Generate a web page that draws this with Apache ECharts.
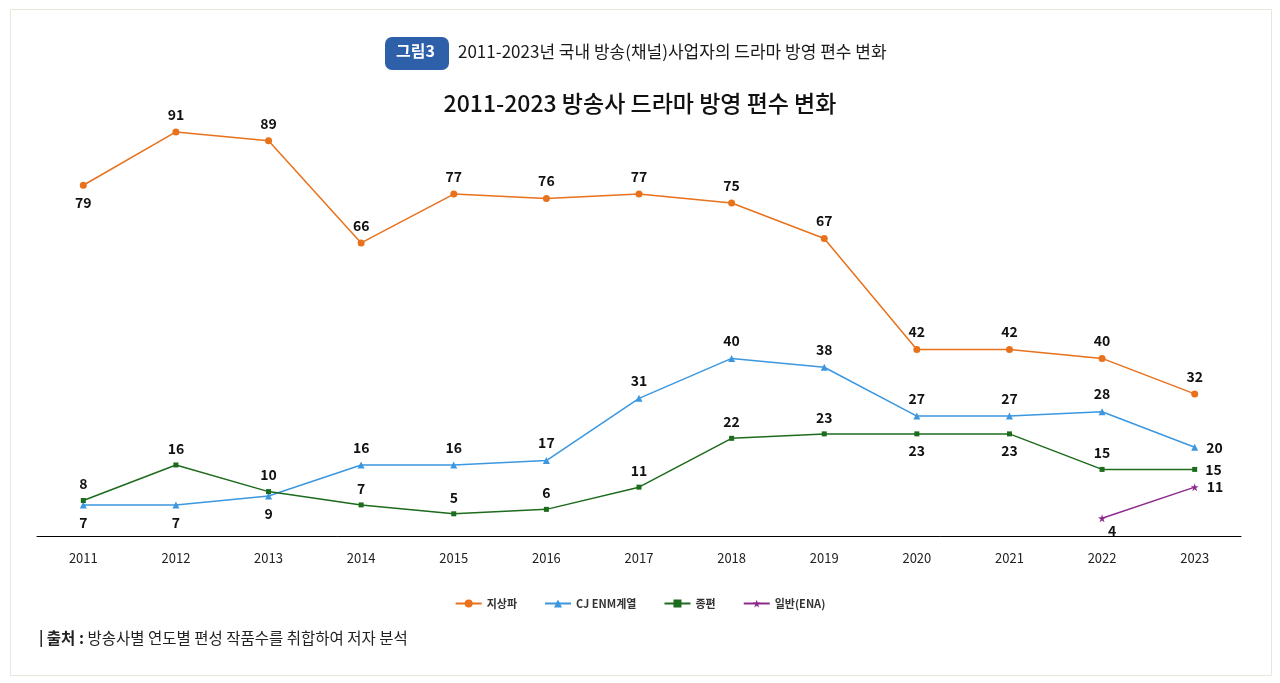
<!DOCTYPE html>
<html>
<head>
<meta charset="utf-8">
<title>2011-2023 방송사 드라마 방영 편수 변화</title>
<script src="https://cdn.jsdelivr.net/npm/echarts@6/dist/echarts.min.js"></script>
<style>
  html, body { margin: 0; padding: 0; background: #fff; }
  #chart { width: 1280px; height: 683px; }
</style>
</head>
<body>
<div id="chart"></div>
<script>
const years = ['2011', '2012', '2013', '2014', '2015', '2016', '2017', '2018', '2019', '2020', '2021', '2022', '2023'];
const terrestrial = [79, 91, 89, 66, 77, 76, 77, 75, 67, 42, 42, 40, 32];
const cjEnm = [7, 7, 9, 16, 16, 17, 31, 40, 38, 27, 27, 28, 20];
const jongpyeon = [8, 16, 10, 7, 5, 6, 11, 22, 23, 23, 23, 15, 15];
const ena = [null, null, null, null, null, null, null, null, null, null, null, 4, 11];

const FONT = '"Noto Sans CJK KR", "Noto Sans", sans-serif';

// where each point's label sits (default is top)
const labelPlace = {
  '지상파': { 0: 'bottom' },
  'CJ ENM계열': { 0: 'bottom', 1: 'bottom', 2: 'bottom', 12: 'right' },
  '종편': { 9: 'bottom', 10: 'bottom', 12: 'right' },
  '일반(ENA)': { 11: 'bottom', 12: 'right' }
};

function makeData(name, values) {
  return values.map(function (v, i) {
    const pos = labelPlace[name][i] || 'top';
    const item = { value: v, label: { position: pos } };
    if (name === '일반(ENA)' && i === 11) {
      item.label.offset = [10, 0];
      item.label.distance = 1;
    }
    if (pos === 'right') item.label.distance = 8;
    return item;
  });
}

function lineSeries(name, values, color, symbol, size) {
  return {
    name: name,
    type: 'line',
    data: makeData(name, values),
    symbol: symbol,
    symbolSize: size,
    showSymbol: true,
    connectNulls: false,
    itemStyle: { color: color },
    lineStyle: { color: color, width: 1.5 },
    label: {
      show: true,
      distance: 7,
      fontFamily: FONT,
      fontSize: 14,
      fontWeight: 'bold',
      color: '#111'
    },
    emphasis: { disabled: true },
    animation: false
  };
}

const chart = echarts.init(document.getElementById('chart'));

const option = {
  backgroundColor: '#fff',
  title: {
    text: '2011-2023 방송사 드라마 방영 편수 변화',
    left: 'center',
    top: 87,
    textStyle: { fontFamily: FONT, fontSize: 23, fontWeight: 500, color: '#111' }
  },
  legend: {
    top: 593,
    left: 'center',
    itemGap: 27,
    itemWidth: 26,
    itemHeight: 10,
    textStyle: { fontFamily: FONT, fontSize: 11, fontWeight: 'bold', color: '#333' },
    data: ['지상파', 'CJ ENM계열', '종편', '일반(ENA)']
  },
  grid: { left: 37, right: 39, top: 92, bottom: 147 },
  xAxis: {
    type: 'category',
    data: years,
    boundaryGap: true,
    axisLine: { lineStyle: { color: '#000', width: 1 } },
    axisTick: { show: false },
    axisLabel: { fontFamily: FONT, fontSize: 13, color: '#222', margin: 16 }
  },
  yAxis: {
    type: 'value',
    min: 0,
    max: 100,
    show: false,
    splitLine: { show: false }
  },
  series: [
    lineSeries('지상파', terrestrial, '#e8711c', 'circle', 7),
    lineSeries('CJ ENM계열', cjEnm, '#3b97e0', 'triangle', 7),
    lineSeries('종편', jongpyeon, '#1d6b1d', 'rect', 5),
    lineSeries('일반(ENA)', ena, '#8e2a8e', 'path://M50,0 L61,35 L98,35 L68,57 L79,92 L50,71 L21,92 L32,57 L2,35 L39,35 Z', 8)
  ],
  graphic: [
    {
      type: 'rect',
      shape: { x: 10.5, y: 9.5, width: 1261, height: 666 },
      style: { fill: 'none', stroke: '#e9e7da', lineWidth: 1 },
      silent: true
    },
    {
      type: 'rect',
      shape: { x: 385, y: 37, width: 64, height: 33, r: 7 },
      style: { fill: '#2e5fa9' },
      silent: true
    },
    {
      type: 'text',
      left: 396,
      top: 43,
      style: { text: '그림3', fill: '#fff', font: 'bold 16px ' + FONT },
      silent: true
    },
    {
      type: 'text',
      left: 458,
      top: 43,
      style: { text: '2011-2023년 국내 방송(채널)사업자의 드라마 방영 편수 변화', fill: '#1a1a1a', font: '17px ' + FONT },
      silent: true
    },
    {
      type: 'text',
      left: 39,
      top: 630,
      style: {
        text: '{bar|| }{b|출처 : }{t|방송사별 연도별 편성 작품수를 취합하여 저자 분석}',
        rich: {
          bar: { fontFamily: FONT, fontSize: 15, fontWeight: 'bold', fill: '#222' },
          b: { fontFamily: FONT, fontSize: 15.5, fontWeight: 'bold', fill: '#222' },
          t: { fontFamily: FONT, fontSize: 15.5, fill: '#222' }
        }
      },
      silent: true
    }
  ]
};

chart.setOption(option);
</script>
</body>
</html>
